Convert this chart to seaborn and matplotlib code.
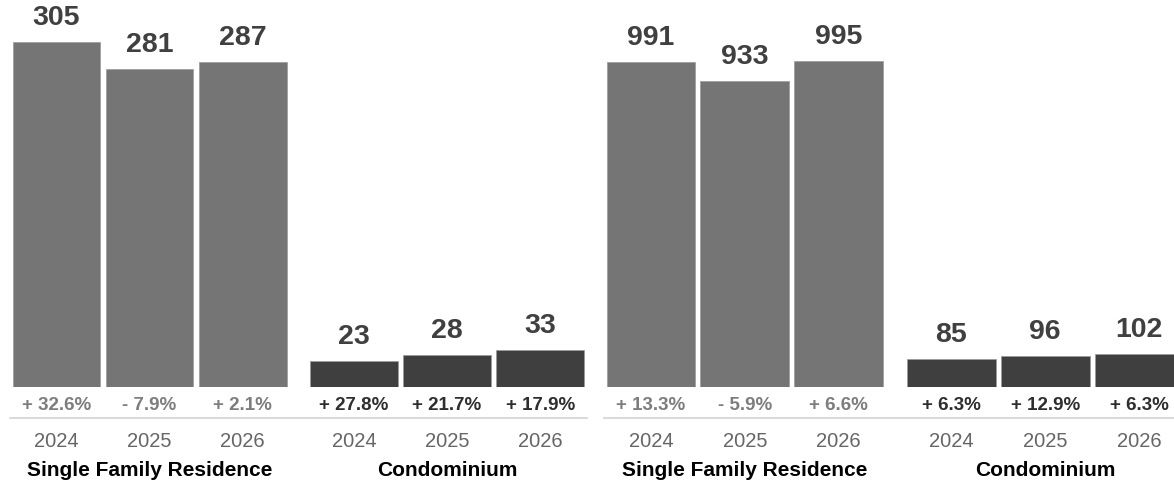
import pandas as pd
import matplotlib
matplotlib.use("Agg")
import matplotlib.pyplot as plt
import seaborn as sns

# datos
years = ["2024", "2025", "2026"]
groups = ["Single Family Residence", "Condominium"]

left_sfr = [305, 281, 287]
left_condo = [23, 28, 33]
left_sfr_pct = ["+ 32.6%", "- 7.9%", "+ 2.1%"]
left_condo_pct = ["+ 27.8%", "+ 21.7%", "+ 17.9%"]

right_sfr = [991, 933, 995]
right_condo = [85, 96, 102]
right_sfr_pct = ["+ 13.3%", "- 5.9%", "+ 6.6%"]
right_condo_pct = ["+ 6.3%", "+ 12.9%", "+ 6.3%"]

positions = [0, 1, 2, 3.2, 4.2, 5.2]
palette = {"Single Family Residence": "#757575", "Condominium": "#3f3f3f"}
pct_colors = {"Single Family Residence": "#7d7d7d", "Condominium": "#2e2e2e"}

sns.set_style("white")
plt.rcParams["font.family"] = ["Liberation Sans", "DejaVu Sans"]

W, H = 1174, 484
fig = plt.figure(figsize=(W / 100, H / 100), dpi=100)


def make_df(sfr, condo, sfr_pct, condo_pct):
    return pd.DataFrame({
        "pos": positions,
        "value": sfr + condo,
        "year": years + years,
        "tipo": [groups[0]] * 3 + [groups[1]] * 3,
        "pct": sfr_pct + condo_pct,
    })


def draw_panel(ax, df, ymax):
    sns.barplot(data=df, x="pos", y="value", hue="tipo", palette=palette,
                native_scale=True, width=0.946, dodge=False, legend=False,
                edgecolor="#9a9a9a", linewidth=0.5, ax=ax)
    ax.set_ylim(0, ymax)
    ax.set_xlim(-0.5, 5.704)

    for _, row in df.iterrows():
        ax.annotate(str(row["value"]), (row["pos"], row["value"]),
                    xytext=(0, 24), textcoords="offset pixels",
                    ha="center", va="center", fontsize=20.5,
                    fontweight="bold", color="#404040", annotation_clip=False)
        ax.annotate(row["pct"], (row["pos"], 0), xytext=(0, -18),
                    textcoords="offset pixels", ha="center", va="center",
                    fontsize=13.5, fontweight="bold",
                    color=pct_colors[row["tipo"]], annotation_clip=False)

    for g, center in zip(groups, [1, 4.2]):
        ax.annotate(g, (center, 0), xytext=(0, -83), textcoords="offset pixels",
                    ha="center", va="center", fontsize=15, fontweight="bold",
                    color="black", annotation_clip=False)

    ax.set_xticks(positions)
    ax.set_xticklabels(df["year"])
    ax.tick_params(axis="x", length=4, width=1, color="#d3d3d3", pad=6,
                   labelsize=14.5, labelcolor="#666666")
    ax.set_yticks([])
    ax.set_xlabel("")
    ax.set_ylabel("")
    for s in ["top", "left", "right"]:
        ax.spines[s].set_visible(False)
    ax.spines["bottom"].set_position(("outward", 31 * 0.72))
    ax.spines["bottom"].set_color("#d3d3d3")
    ax.spines["bottom"].set_linewidth(1.2)
    ax.patch.set_alpha(0)


# panel izquierdo
ax1 = fig.add_axes([10 / W, 97 / H, 577 / W, 387 / H])
draw_panel(ax1, make_df(left_sfr, left_condo, left_sfr_pct, left_condo_pct), 342)

# panel derecho (se corta en el borde, como el original)
ax2 = fig.add_axes([604 / W, 97 / H, 582.3 / W, 387 / H])
draw_panel(ax2, make_df(right_sfr, right_condo, right_sfr_pct, right_condo_pct), 1180)

fig.savefig("out.png", dpi=100)
